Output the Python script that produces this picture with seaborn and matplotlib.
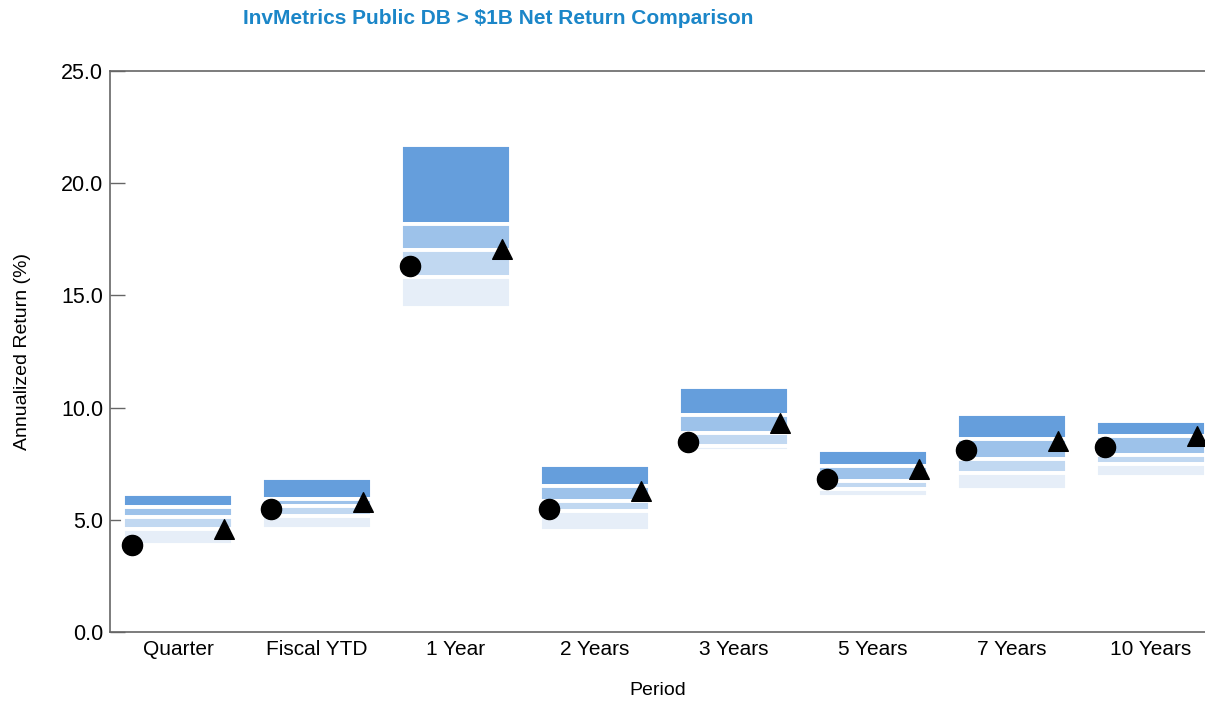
import matplotlib
matplotlib.use("Agg")
import matplotlib.pyplot as plt
import seaborn as sns
import numpy as np

# percentile bands + fund/policy returns
periods = ["Quarter", "Fiscal YTD", "1 Year", "2 Years", "3 Years", "5 Years", "7 Years", "10 Years"]
p5 = [6.15, 6.88, 21.70, 7.42, 10.92, 8.13, 9.70, 9.42]
p25 = [5.58, 5.93, 18.17, 6.52, 9.67, 7.39, 8.61, 8.72]
p50 = [5.12, 5.63, 17.02, 5.84, 8.87, 6.72, 7.69, 7.89]
p75 = [4.59, 5.18, 15.81, 5.39, 8.30, 6.37, 7.10, 7.49]
p95 = [3.86, 4.58, 14.45, 4.49, 8.06, 6.01, 6.34, 6.90]
fund = [3.88, 5.48, 16.32, 5.48, 8.45, 6.83, 8.11, 8.23]
policy = [4.60, 5.81, 17.07, 6.30, 9.30, 7.25, 8.51, 8.73]

sns.set_style("white")
plt.rcParams["font.family"] = ["Liberation Sans", "DejaVu Sans"]
plt.rcParams["text.color"] = "black"
plt.rcParams["axes.labelcolor"] = "black"

fig = plt.figure(figsize=(12.05, 7.03), dpi=100)
ax = fig.add_axes([110 / 1205, 71 / 703, 1 - 110 / 1205, 561 / 703])

band_cols = ["#659EDC", "#9DC2EA", "#C1D8F1", "#E6EEF8"]
bounds = [p5, p25, p50, p75, p95]
for k in range(4):
    top = np.array(bounds[k])
    low = np.array(bounds[k + 1])
    sns.barplot(x=periods, y=top - low, bottom=low, color=band_cols[k], saturation=1,
                width=0.795, edgecolor="white", linewidth=2.8, ax=ax)

pos = np.arange(len(periods))
ax.scatter(pos - 0.33, fund, marker="o", s=210, color="black", zorder=5)
ax.scatter(pos + 0.33, policy, marker="^", s=200, color="black", zorder=5)

ax.set_xlim(-0.49, 7.39)
ax.set_ylim(0, 25)
ax.set_yticks([0, 5, 10, 15, 20, 25])
ax.set_yticklabels(["0.0", "5.0", "10.0", "15.0", "20.0", "25.0"])
ax.tick_params(axis="y", direction="in", length=11, width=1, color="#666666",
               labelcolor="black", labelsize=15.5, pad=5, left=True)
ax.tick_params(axis="x", length=0, labelsize=15, labelcolor="black", pad=6)

for s in ["left", "top", "bottom"]:
    ax.spines[s].set_color("#666666")
    ax.spines[s].set_linewidth(1.2)
ax.spines["right"].set_visible(False)

ax.set_ylabel("Annualized Return (%)", fontsize=14)
ax.set_xlabel("Period", fontsize=14)
ax.yaxis.set_label_coords(-0.072, 0.5)
ax.xaxis.set_label_coords(0.5, -0.089)

fig.text(498 / 1205, 1 - 18 / 703, "InvMetrics Public DB > $1B Net Return Comparison",
         ha="center", va="center", fontsize=15, fontweight="bold", color="#1B86C8")

fig.savefig("out.png", dpi=100)
